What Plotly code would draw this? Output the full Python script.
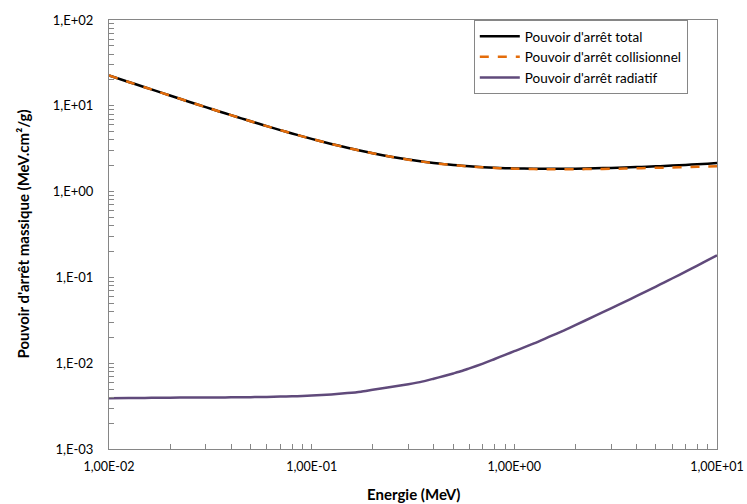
import plotly.graph_objects as go

energie = [0.01, 0.0125, 0.015, 0.0175, 0.02, 0.025, 0.03, 0.035, 0.04, 0.045,
           0.05, 0.055, 0.06, 0.07, 0.08, 0.09, 0.1, 0.125, 0.15, 0.175,
           0.2, 0.25, 0.3, 0.35, 0.4, 0.45, 0.5, 0.55, 0.6, 0.7,
           0.8, 0.9, 1.0, 1.25, 1.5, 1.75, 2.0, 2.5, 3.0, 3.5,
           4.0, 4.5, 5.0, 5.5, 6.0, 7.0, 8.0, 9.0, 10.0]

total = [22.56, 18.97, 16.45, 14.61, 13.17, 11.09, 9.657, 8.596, 7.781, 7.134,
         6.607, 6.170, 5.801, 5.211, 4.761, 4.406, 4.119, 3.595, 3.242, 2.989,
         2.798, 2.533, 2.361, 2.241, 2.155, 2.090, 2.042, 2.003, 1.972, 1.927,
         1.897, 1.876, 1.863, 1.846, 1.843, 1.848, 1.852, 1.870, 1.890, 1.910,
         1.931, 1.950, 1.970, 1.990, 2.008, 2.045, 2.081, 2.115, 2.149]

collision = [22.56, 18.97, 16.45, 14.61, 13.17, 11.09, 9.653, 8.592, 7.777, 7.130,
             6.603, 6.166, 5.797, 5.207, 4.757, 4.402, 4.115, 3.591, 3.238, 2.984,
             2.793, 2.528, 2.355, 2.235, 2.148, 2.083, 2.034, 1.995, 1.963, 1.917,
             1.886, 1.864, 1.849, 1.829, 1.822, 1.824, 1.824, 1.834, 1.846, 1.858,
             1.870, 1.881, 1.892, 1.902, 1.911, 1.928, 1.943, 1.956, 1.968]

radiatif = [0.00390, 0.00393, 0.00394, 0.00396, 0.00396, 0.00398, 0.00398, 0.00399, 0.00400, 0.00401,
            0.00402, 0.00404, 0.00405, 0.00408, 0.00411, 0.00415, 0.00420, 0.00433, 0.00448, 0.00466,
            0.00490, 0.00530, 0.00570, 0.00610, 0.00660, 0.00710, 0.00760, 0.00810, 0.00870, 0.00990,
            0.0112, 0.0125, 0.0138, 0.0170, 0.0205, 0.0240, 0.0278, 0.0355, 0.0436, 0.0519,
            0.0605, 0.0693, 0.0783, 0.0876, 0.0971, 0.1168, 0.1374, 0.1588, 0.1810]

x_tickvals = [0.01, 0.1, 1, 10]
x_ticktext = ["1,00E-02", "1,00E-01", "1,00E+00", "1,00E+01"]
y_tickvals = [0.001, 0.01, 0.1, 1, 10, 100]
y_ticktext = ["1,E-03", "1,E-02", "1,E-01", "1,E+00", "1,E+01", "1,E+02"]

x_minor = [m * 10.0 ** d for d in range(-2, 1) for m in range(2, 10)]
y_minor = [m * 10.0 ** d for d in range(-3, 2) for m in range(2, 10)]

FONT = "Lato, Carlito, Calibri, sans-serif"
AXC = "#868686"

W, H = 747, 504
ML, MR, MT, MB = 109, 30, 20, 55
plot_w = W - ML - MR
plot_h = H - MT - MB

fig = go.Figure()
fig.add_trace(go.Scatter(x=energie, y=total, mode="lines", name="Pouvoir d'arrêt total",
                         line=dict(color="#000000", width=2.5, shape="spline", smoothing=0.6)))
fig.add_trace(go.Scatter(x=energie, y=collision, mode="lines", name="Pouvoir d'arrêt collisionnel",
                         line=dict(color="#E46C0A", width=2.5, dash="dash", shape="spline", smoothing=0.6)))
fig.add_trace(go.Scatter(x=energie, y=radiatif, mode="lines", name="Pouvoir d'arrêt radiatif",
                         line=dict(color="#604A7B", width=2.5, shape="spline", smoothing=0.6)))

fig.update_layout(
    width=W, height=H,
    margin=dict(l=ML, r=MR, t=MT, b=MB),
    paper_bgcolor="white", plot_bgcolor="white",
    font=dict(family=FONT, size=13, color="#000000"),
    showlegend=True,
    legend=dict(x=0.600, y=1.0, xanchor="left", yanchor="top",
                bgcolor="white", bordercolor=AXC, borderwidth=1,
                font=dict(family=FONT, size=13.5), tracegroupgap=0, itemwidth=40),
    xaxis=dict(type="log", range=[-2, 1], tickvals=x_tickvals, ticktext=x_ticktext,
               showgrid=False, zeroline=False, showline=True, linecolor=AXC, linewidth=1,
               mirror=True, ticks="inside", ticklen=5, tickcolor=AXC, automargin=False,
               minor=dict(tickvals=x_minor, ticks="inside", ticklen=5, tickcolor=AXC, showgrid=False),
               tickfont=dict(size=12.5), ticklabelstandoff=6),
    yaxis=dict(type="log", range=[-3, 2], tickvals=y_tickvals, ticktext=y_ticktext,
               showgrid=False, zeroline=False, showline=True, linecolor=AXC, linewidth=1,
               mirror=True, ticks="inside", ticklen=5, tickcolor=AXC, automargin=False,
               minor=dict(tickvals=y_minor, ticks="inside", ticklen=5, tickcolor=AXC, showgrid=False),
               tickfont=dict(size=13), ticklabelstandoff=12),
    annotations=[
        dict(text="<b>Energie (MeV)</b>", xref="paper", yref="paper",
             x=0.5, y=-(494 - (H - MB)) / plot_h, yanchor="middle",
             showarrow=False, font=dict(size=15)),
        dict(text="<b>Pouvoir d'arrêt massique (MeV.cm²/g)</b>", xref="paper", yref="paper",
             x=-(ML - 22) / plot_w, y=0.5, xanchor="center", yanchor="middle",
             showarrow=False, textangle=-90, font=dict(size=15)),
    ],
)

fig.write_html("out.html", config={"displayModeBar": False},
               post_script="document.body.style.margin='0px';")
